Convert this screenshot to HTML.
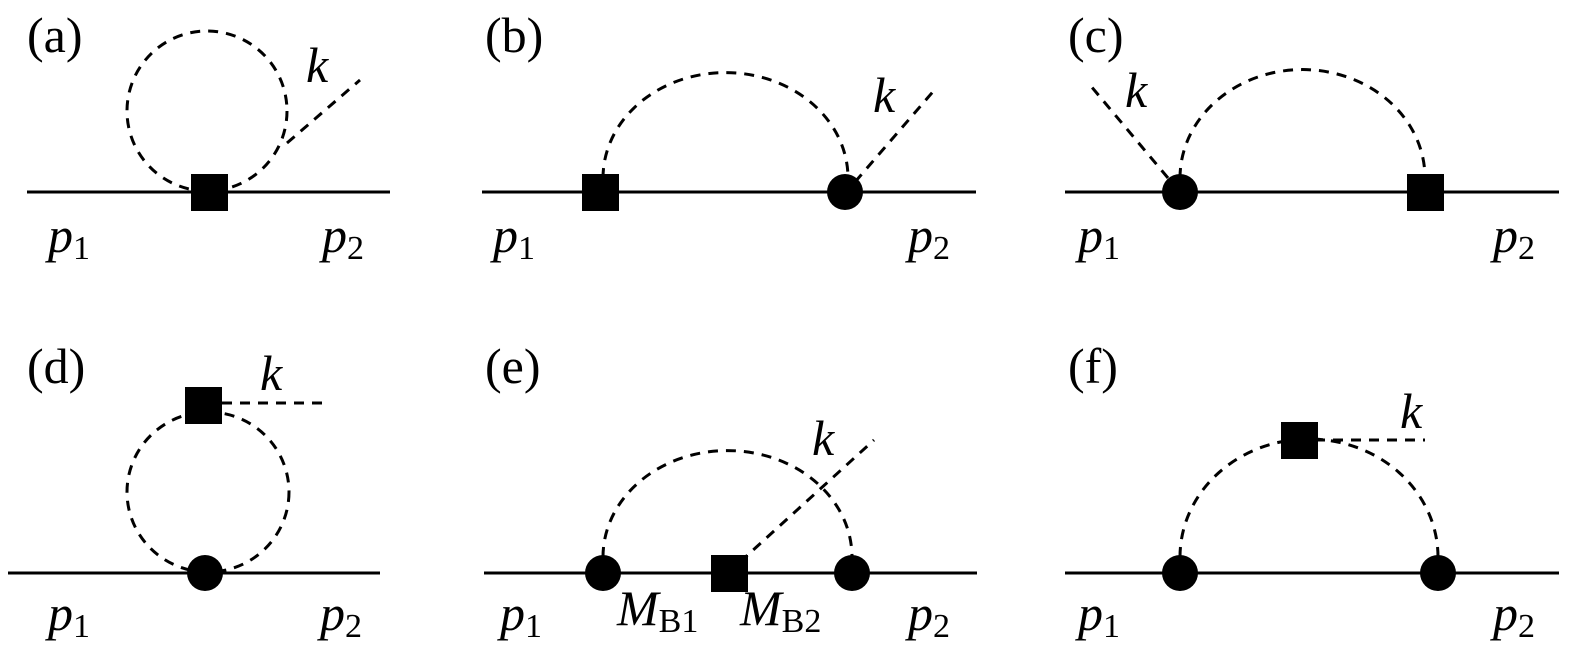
<!DOCTYPE html>
<html><head><meta charset="utf-8"><style>
html,body{margin:0;padding:0;background:#fff;}
svg{display:block;}
text{font-family:"Liberation Serif",serif;font-size:50px;fill:#000;}
.i{font-style:italic;}
.s{font-size:34px;font-style:normal;}
</style></head><body>
<svg width="1575" height="655" viewBox="0 0 1575 655" xmlns="http://www.w3.org/2000/svg">
<g stroke="#000" stroke-width="3" fill="none">
<line x1="27" y1="192" x2="390" y2="192"/>
<line x1="482" y1="192" x2="976" y2="192"/>
<line x1="1065" y1="192" x2="1559" y2="192"/>
<line x1="8" y1="573" x2="380" y2="573"/>
<line x1="484" y1="573" x2="977" y2="573"/>
<line x1="1065" y1="573" x2="1559" y2="573"/>
</g>
<g stroke="#000" stroke-width="3" fill="none" stroke-dasharray="10,8">
<circle cx="207" cy="111" r="80"/>
<line x1="287" y1="143" x2="360" y2="80"/>
<path d="M603,178 A122,105 0 0 1 848,178"/>
<line x1="855" y1="182" x2="937" y2="87"/>
<path d="M1180,178 A122,108 0 0 1 1425,178"/>
<line x1="1168" y1="178" x2="1090" y2="85"/>
<ellipse cx="208" cy="492" rx="81" ry="80"/>
<line x1="222" y1="403" x2="325" y2="403"/>
<path d="M603,557 A124,106 0 0 1 852,557"/>
<line x1="740" y1="562" x2="874" y2="440"/>
<path d="M1180,557 A129,118 0 0 1 1438,557"/>
<line x1="1315" y1="440" x2="1425" y2="440"/>
</g>
<g fill="#000">
<rect x="191" y="174" width="37" height="37"/>
<rect x="582" y="174" width="37" height="37"/>
<circle cx="845" cy="192" r="18"/>
<circle cx="1180" cy="192" r="18"/>
<rect x="1407" y="174" width="37" height="37"/>
<rect x="185" y="387" width="37" height="37"/>
<circle cx="205" cy="573" r="18"/>
<circle cx="603" cy="573" r="18"/>
<rect x="711" y="555" width="37" height="37"/>
<circle cx="852" cy="573" r="18"/>
<rect x="1281" y="422" width="37" height="37"/>
<circle cx="1180" cy="573" r="18"/>
<circle cx="1438" cy="573" r="18"/>
</g>
<text x="27" y="52">(a)</text>
<text x="485" y="52">(b)</text>
<text x="1068" y="52">(c)</text>
<text x="27" y="383">(d)</text>
<text x="485" y="383">(e)</text>
<text x="1068" y="383">(f)</text>
<text class="i" x="306" y="82">k</text>
<text class="i" x="873" y="112">k</text>
<text class="i" x="1125" y="107">k</text>
<text class="i" x="260" y="390">k</text>
<text class="i" x="812" y="455">k</text>
<text class="i" x="1400" y="428">k</text>
<text class="i" x="48" y="252">p<tspan class="s" dy="7">1</tspan></text>
<text class="i" x="322" y="252">p<tspan class="s" dy="7">2</tspan></text>
<text class="i" x="493" y="252">p<tspan class="s" dy="7">1</tspan></text>
<text class="i" x="908" y="252">p<tspan class="s" dy="7">2</tspan></text>
<text class="i" x="1078" y="252">p<tspan class="s" dy="7">1</tspan></text>
<text class="i" x="1493" y="252">p<tspan class="s" dy="7">2</tspan></text>
<text class="i" x="48" y="630">p<tspan class="s" dy="7">1</tspan></text>
<text class="i" x="320" y="630">p<tspan class="s" dy="7">2</tspan></text>
<text class="i" x="500" y="630">p<tspan class="s" dy="7">1</tspan></text>
<text class="i" x="908" y="630">p<tspan class="s" dy="7">2</tspan></text>
<text class="i" x="1078" y="630">p<tspan class="s" dy="7">1</tspan></text>
<text class="i" x="1493" y="630">p<tspan class="s" dy="7">2</tspan></text>
<text class="i" x="617" y="625">M<tspan class="s" dy="7">B1</tspan></text>
<text class="i" x="740" y="625">M<tspan class="s" dy="7">B2</tspan></text>
</svg>
</body></html>
